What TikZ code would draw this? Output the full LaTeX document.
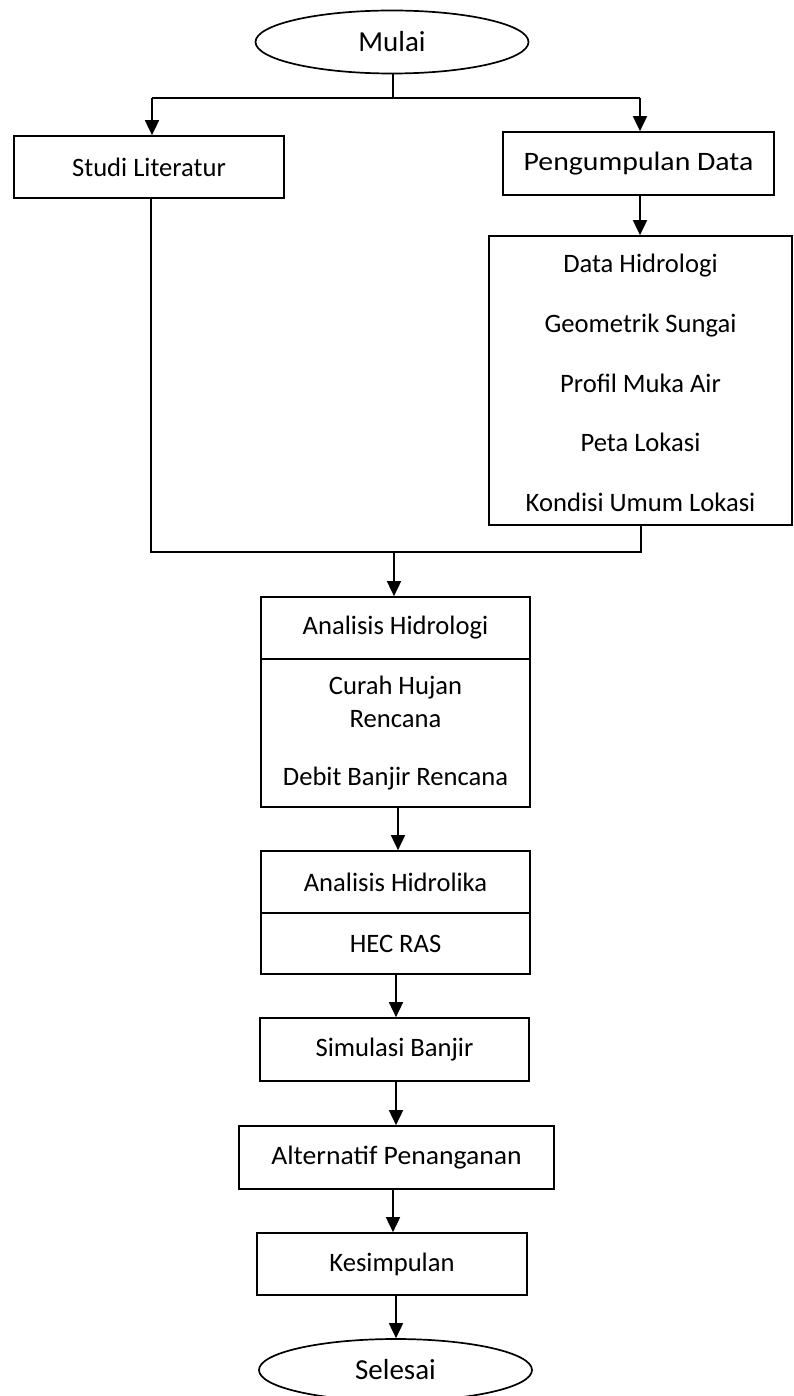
\documentclass[tikz,border=0pt]{standalone}
\usepackage{fontspec}
\setmainfont{Carlito}
\newfontfamily\widefont[FakeStretch=1.12]{Carlito}
\newfontfamily\semiwidefont[FakeStretch=1.04]{Carlito}
\usetikzlibrary{shapes.geometric,arrows.meta}
\tikzset{
  base/.style={draw=black, line width=1.7pt, inner sep=0pt, align=center, font=\fontsize{26.6}{30}\selectfont},
  term/.style={base, ellipse, minimum width=273pt, minimum height=63pt, font=\fontsize{29}{33}\selectfont},
  box/.style={base, rectangle},
  plaintext/.style={inner sep=0pt, align=center},
  conn/.style={line width=1.7pt},
  arr/.style={conn, -{Triangle[width=14pt,length=15pt]}}
}
\begin{document}
\begin{tikzpicture}[x=1pt,y=-1pt]
\useasboundingbox (0,0) rectangle (794,1396);
% nodes
\node[term] (mulai) at (392,42) {Mulai};
\node[box, minimum width=270pt, minimum height=62pt] (studi) at (149,167) {Studi Literatur};
\node[box, minimum width=271pt, minimum height=63pt, font=\widefont\fontsize{26.6}{30}\selectfont] (pengumpulan) at (638.5,163.5) {Pengumpulan Data};
\node[box, minimum width=303pt, minimum height=289pt] (data) at (640.5,380.5) {};
\node[plaintext, font=\fontsize{26.6}{59.75}\selectfont] (dataitems) at (640.5,383)
  {Data Hidrologi\\Geometrik Sungai\\Profil Muka Air\\Peta Lokasi\\Kondisi Umum Lokasi};
\node[box, minimum width=269pt, minimum height=62pt] (hidrologi) at (395.5,628) {Analisis Hidrologi};
\node[box, minimum width=269pt, minimum height=148pt, font=\fontsize{26.6}{33}\selectfont] (hidrologi2) at (395.5,733)
  {Curah Hujan\\Rencana\\[25pt]Debit Banjir Rencana};
\node[box, minimum width=269pt, minimum height=62pt] (hidrolika) at (395.5,882) {Analisis Hidrolika};
\node[box, minimum width=269pt, minimum height=61pt] (hecras) at (395.5,943.5) {HEC RAS};
\node[box, minimum width=269pt, minimum height=63pt] (simulasi) at (394.5,1049.5) {Simulasi Banjir};
\node[box, minimum width=315pt, minimum height=63pt, font=\semiwidefont\fontsize{26.6}{30}\selectfont] (alternatif) at (396.5,1157.5) {Alternatif Penanganan};
\node[box, minimum width=270pt, minimum height=62pt] (kesimpulan) at (392,1264) {Kesimpulan};
\node[term, minimum height=62pt] (selesai) at (395.5,1370) {Selesai};
% junction coordinates
\coordinate (jt) at (393,98);
\coordinate (jtl) at (152,98);
\coordinate (jtr) at (640,98);
\coordinate (jbl) at (151,552);
\coordinate (jbr) at (641,552);
\coordinate (jbm) at (394,552);
% connectors
\draw[conn] (mulai.south -| jt) -- (jt);
\draw[conn] (jtl) -- (jtr);
\draw[arr] (jtl) -- (jtl |- studi.north);
\draw[arr] (jtr) -- (jtr |- pengumpulan.north);
\draw[arr] (pengumpulan.south -| jtr) -- (data.north -| jtr);
\draw[conn] (studi.south -| jbl) -- (jbl) -- (jbr) -- (data.south -| jbr);
\draw[arr] (jbm) -- (hidrologi.north -| jbm);
\draw[arr] ([xshift=2.5pt]hidrologi2.south) -- ([xshift=2.5pt]hidrolika.north);
\draw[arr] ([xshift=0.5pt]hecras.south) -- (simulasi.north -| 396,0);
\draw[arr] ([xshift=1.5pt]simulasi.south) -- (alternatif.north -| 396,0);
\draw[arr] (alternatif.south -| 393,0) -- (kesimpulan.north -| 393,0);
\draw[arr] (kesimpulan.south -| 396,0) -- (selesai.north -| 396,0);
\end{tikzpicture}
\end{document}
